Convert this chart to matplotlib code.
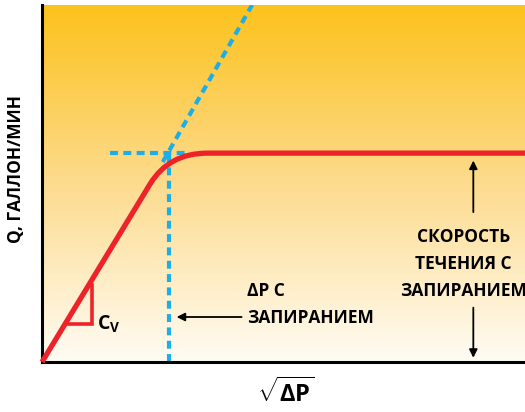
import numpy as np
import matplotlib
matplotlib.use('Agg')
import matplotlib.pyplot as plt
from matplotlib.path import Path
from matplotlib.patches import PathPatch
from matplotlib.colors import LinearSegmentedColormap

plt.rcParams['font.family'] = ['Liberation Sans Narrow', 'Open Sans', 'DejaVu Sans']
plt.rcParams['mathtext.fontset'] = 'custom'
plt.rcParams['mathtext.rm'] = 'Open Sans:bold'
plt.rcParams['mathtext.bf'] = 'Open Sans:bold'

# кривая расхода (условные единицы 0..10)
flow_line_x = [0.0, 2.24]        # линейный участок
flow_line_y = [0.0, 4.99]
knee_ctrl = (2.63, 5.85)         # управляющая точка изгиба
knee_end = (3.42, 5.85)
plateau_x = [3.42, 10.0]
plateau_y = [5.85, 5.85]

# пунктирные линии
ext_x = [2.50, 4.35]
ext_y = [5.60, 10.0]
hor_x = [1.41, 3.06]
hor_y = [5.85, 5.85]
ver_x = [2.63, 2.63]
ver_y = [0.0, 5.80]

# треугольник Cv
tri_x = [0.54, 1.04, 1.04]
tri_y = [1.06, 1.06, 2.16]

red = '#EE2229'
blue = '#1CAEE8'

fig = plt.figure(figsize=(5.25, 4.12), dpi=100)
ax = fig.add_axes([0.08, 0.1214, 0.92, 0.8665])
ax.set_xlim(0, 10)
ax.set_ylim(0, 10)

cmap = LinearSegmentedColormap.from_list('bg', ['#FFFCF4', '#FDDB8E', '#FCC21C'])
grad = np.linspace(0, 1, 256).reshape(-1, 1)
ax.imshow(grad, extent=[0, 10, 0, 10], origin='lower', aspect='auto', cmap=cmap, zorder=0)

# пунктир
dash = dict(color=blue, lw=3, dashes=(1.9, 1.3), zorder=2, solid_capstyle='butt')
ax.plot(ext_x, ext_y, **dash)
ax.plot(hor_x, hor_y, **dash)
ax.plot(ver_x, ver_y, **dash)

# красная кривая
verts = [(flow_line_x[0], flow_line_y[0]), (flow_line_x[1], flow_line_y[1]),
         knee_ctrl, knee_end, (plateau_x[1], plateau_y[1])]
codes = [Path.MOVETO, Path.LINETO, Path.CURVE3, Path.CURVE3, Path.LINETO]
ax.add_patch(PathPatch(Path(verts, codes), fill=False, edgecolor=red, lw=3.8,
                       capstyle='butt', zorder=3, clip_on=False))
ax.plot(tri_x, tri_y, color=red, lw=2.6, zorder=3, solid_joinstyle='miter')
ax.text(1.13, 1.05, r'C$_{\mathregular{V}}$', fontsize=14, fontweight='bold', va='center')

# стрелки и подписи
arr = dict(arrowstyle='-|>', color='black', lw=1.3, mutation_scale=12)
ax.annotate('', xy=(2.73, 1.26), xytext=(4.19, 1.26), arrowprops=arr)
ax.text(4.25, 1.62, 'ΔP С\nЗАПИРАНИЕМ', fontsize=12.5, fontweight='bold',
        va='center', ha='left', linespacing=1.65)

ax.annotate('', xy=(8.93, 5.72), xytext=(8.93, 4.12), arrowprops=arr)
ax.annotate('', xy=(8.93, 0.04), xytext=(8.93, 1.6), arrowprops=arr)
ax.text(8.72, 2.75, 'СКОРОСТЬ\nТЕЧЕНИЯ С\nЗАПИРАНИЕМ', fontsize=12.5, fontweight='bold',
        va='center', ha='center', linespacing=1.65)

for s in ['top', 'right']:
    ax.spines[s].set_visible(False)
for s in ['left', 'bottom']:
    ax.spines[s].set_linewidth(2.2)
ax.set_xticks([])
ax.set_yticks([])

fig.text(0.03, 0.59, 'Q, ГАЛЛОН/МИН', rotation=90, fontsize=12.5, fontweight='bold',
         ha='center', va='center')
fig.text(0.545, 0.045, r'$\sqrt{\Delta \mathrm{P}}$', fontsize=17, ha='center', va='center')

fig.savefig('out.png', dpi=100)
